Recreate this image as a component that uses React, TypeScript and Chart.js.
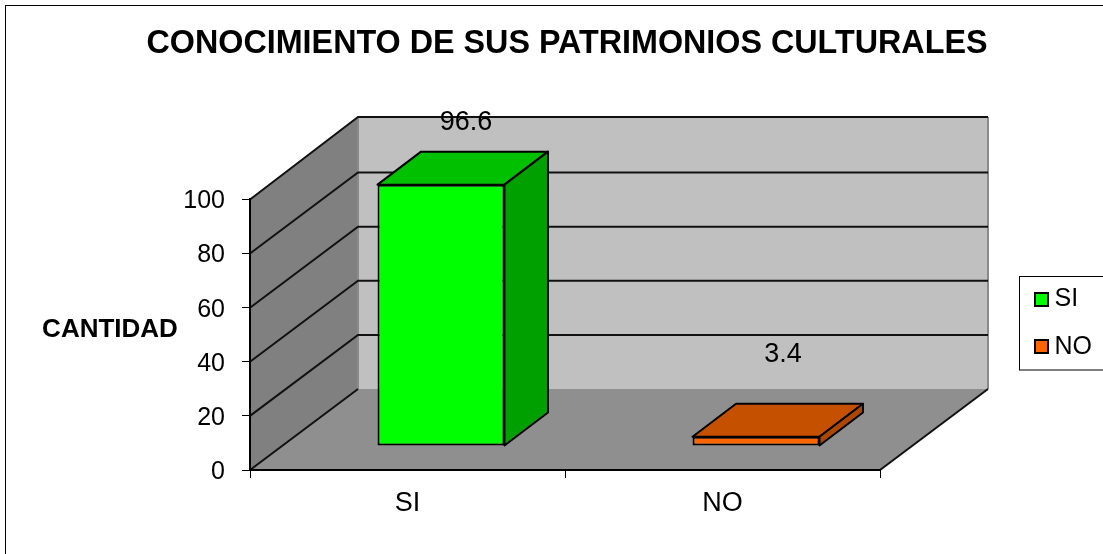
import React, { useEffect, useRef } from "react";
import { Chart, registerables } from "chart.js";

Chart.register(...registerables);

const categories = ["SI", "NO"];
const values = [96.6, 3.4];
const frontColors = ["#00FF00", "#FF6600"];
const topColors = ["#00C000", "#C45000"];
const sideColors = ["#00A000", "#AD4600"];
const chartTitle = "CONOCIMIENTO DE SUS PATRIMONIOS CULTURALES";
const axisTitle = "CANTIDAD";

const FONT = '"Liberation Sans", Arial, sans-serif';
const WALL = { dx: 108, dy: -81 };
const BAR_DEPTH = { dx: 43.5, dy: -33 };
const BAR_SHIFT = { dx: 33.5, dy: -24 };
const LABEL_NUDGE = [
  { dx: 25, dy: -62 },
  { dx: 27, dy: -82 },
];

function poly(ctx: CanvasRenderingContext2D, pts: number[][], fill?: string, stroke = true) {
  ctx.beginPath();
  pts.forEach((p, i) => (i ? ctx.lineTo(p[0], p[1]) : ctx.moveTo(p[0], p[1])));
  ctx.closePath();
  if (fill) {
    ctx.fillStyle = fill;
    ctx.fill();
  }
  if (stroke) ctx.stroke();
}

const scene = {
  id: "scene",
  afterLayout(chart: any) {
    chart.titleBlock.left = 0;
    chart.titleBlock.right = 1134;
    const l = chart.legend;
    l.left = 1011;
    l.right = 1103;
    l.top = 264;
    l.bottom = 554;
    l.width = 92;
    l.height = 290;
  },
  beforeDraw(chart: any) {
    const { ctx, chartArea: a, scales } = chart;
    const { dx, dy } = WALL;
    ctx.save();
    ctx.fillStyle = "#FFFFFF";
    ctx.fillRect(0, 0, chart.width, chart.height);
    ctx.strokeStyle = "#000";
    ctx.lineWidth = 1;
    ctx.strokeRect(5.5, 5.5, 1200, 700);

    // walls and floor
    const yTop = a.top + dy - 1.5;
    poly(ctx, [[a.left + dx, yTop], [a.right + dx, yTop], [a.right + dx, a.bottom + dy], [a.left + dx, a.bottom + dy]], "#C0C0C0", false);
    poly(ctx, [[a.left, a.top], [a.left + dx, yTop], [a.left + dx, a.bottom + dy], [a.left, a.bottom]], "#808080", false);
    poly(ctx, [[a.left, a.bottom], [a.left + dx, a.bottom + dy], [a.right + dx, a.bottom + dy], [a.right, a.bottom]], "#8F8F8F", false);

    ctx.strokeStyle = "#8A8A8A";
    ctx.lineWidth = 2;
    ctx.beginPath();
    ctx.moveTo(a.left + dx, yTop);
    ctx.lineTo(a.left + dx, a.bottom + dy);
    ctx.moveTo(a.right + dx, yTop);
    ctx.lineTo(a.right + dx, a.bottom + dy);
    ctx.stroke();

    // gridlines along side wall and back wall
    ctx.strokeStyle = "#111";
    ctx.lineWidth = 2;
    scales.y.ticks.forEach((t: any) => {
      const y = scales.y.getPixelForValue(t.value);
      const by = t.value === 100 ? yTop : y + dy;
      ctx.beginPath();
      ctx.moveTo(a.left, y);
      ctx.lineTo(a.left + dx, by);
      if (t.value > 0) ctx.lineTo(a.right + dx, by);
      ctx.stroke();
    });
    ctx.beginPath();
    ctx.moveTo(a.right, a.bottom);
    ctx.lineTo(a.right + dx, a.bottom + dy);
    ctx.stroke();
    ctx.restore();
  },
  beforeDatasetsDraw(chart: any) {
    const { ctx } = chart;
    ctx.save();
    ctx.translate(BAR_SHIFT.dx, BAR_SHIFT.dy);
    ctx.strokeStyle = "#000";
    ctx.lineWidth = 2;
    ctx.lineJoin = "round";
    const { dx, dy } = BAR_DEPTH;
    chart.getDatasetMeta(0).data.forEach((bar: any, i: number) => {
      const l = bar.x - bar.width / 2;
      const r = bar.x + bar.width / 2;
      poly(ctx, [[l, bar.y], [l + dx, bar.y + dy], [r + dx, bar.y + dy], [r, bar.y]], topColors[i]);
      poly(ctx, [[r, bar.y], [r + dx, bar.y + dy], [r + dx, bar.base + dy], [r, bar.base]], sideColors[i]);
    });
  },
  afterDatasetsDraw(chart: any) {
    const { ctx } = chart;
    ctx.restore();
    ctx.save();
    ctx.fillStyle = "#000";
    ctx.font = `27px ${FONT}`;
    ctx.textAlign = "center";
    ctx.textBaseline = "middle";
    chart.getDatasetMeta(0).data.forEach((bar: any, i: number) => {
      const x = bar.x + BAR_SHIFT.dx + LABEL_NUDGE[i].dx;
      const y = bar.y + BAR_SHIFT.dy + LABEL_NUDGE[i].dy;
      ctx.fillText(String(values[i]), x, y);
    });
    // horizontal axis title
    ctx.font = `bold 26px ${FONT}`;
    ctx.fillText(axisTitle, 110, 330);
    ctx.restore();
  },
  afterDraw(chart: any) {
    const { ctx } = chart;
    ctx.save();
    ctx.strokeStyle = "#000";
    ctx.lineWidth = 1;
    ctx.strokeRect(1019.5, 276.5, 120, 93.5);
    ctx.lineWidth = 2;
    frontColors.forEach((c, i) => {
      ctx.fillStyle = c;
      ctx.fillRect(1035, 293 + i * 47, 13, 13);
      ctx.strokeRect(1035, 293 + i * 47, 13, 13);
    });
    ctx.restore();
  },
};

export default function App() {
  const ref = useRef<HTMLCanvasElement>(null);
  useEffect(() => {
    const chart = new Chart(ref.current!, {
      type: "bar",
      data: {
        labels: categories,
        datasets: [
          {
            data: values,
            backgroundColor: frontColors,
            borderColor: "#000",
            borderWidth: 2,
            borderSkipped: false,
            barPercentage: 0.403,
            categoryPercentage: 1,
          },
        ],
      },
      options: {
        responsive: false,
        animation: false,
        layout: { padding: { left: 0, right: 223, top: 0, bottom: 0 } },
        plugins: {
          tooltip: { enabled: false },
          title: {
            display: true,
            text: chartTitle,
            color: "#000",
            font: { family: FONT, size: 32.3, weight: "bold" },
            padding: { top: 24.5, bottom: 136.2 },
          },
          legend: {
            display: true,
            position: "chartArea",
            align: "start",
            labels: {
              color: "#000",
              font: { family: FONT, size: 25 },
              boxWidth: 8,
              boxHeight: 8,
              padding: 23,
              generateLabels: () =>
                categories.map((text) => ({
                  text,
                  fillStyle: "transparent",
                  strokeStyle: "transparent",
                  lineWidth: 0,
                  fontColor: "#000",
                })),
            },
          },
        },
        scales: {
          x: {
            afterFit: (s: any) => {
              s.height = 84;
            },
            border: { color: "#000", width: 2 },
            grid: { drawOnChartArea: false, drawTicks: true, tickLength: 8, color: "#000" },
            ticks: { color: "#000", padding: 9, font: { family: FONT, size: 27 } },
          },
          y: {
            min: 0,
            max: 100,
            afterFit: (s: any) => {
              s.width = 250;
            },
            border: { color: "#000", width: 2 },
            grid: { drawOnChartArea: false, drawTicks: true, tickLength: 8, color: "#000" },
            ticks: { stepSize: 20, color: "#000", padding: 17, labelOffset: 2, font: { family: FONT, size: 25 } },
          },
        },
      },
      plugins: [scene],
    } as any);
    return () => chart.destroy();
  }, []);
  return (
    <div style={{ position: "absolute", left: 0, top: 0, width: 1103, height: 554, overflow: "hidden" }}>
      <canvas ref={ref} width={1103} height={554} style={{ display: "block" }} />
    </div>
  );
}
